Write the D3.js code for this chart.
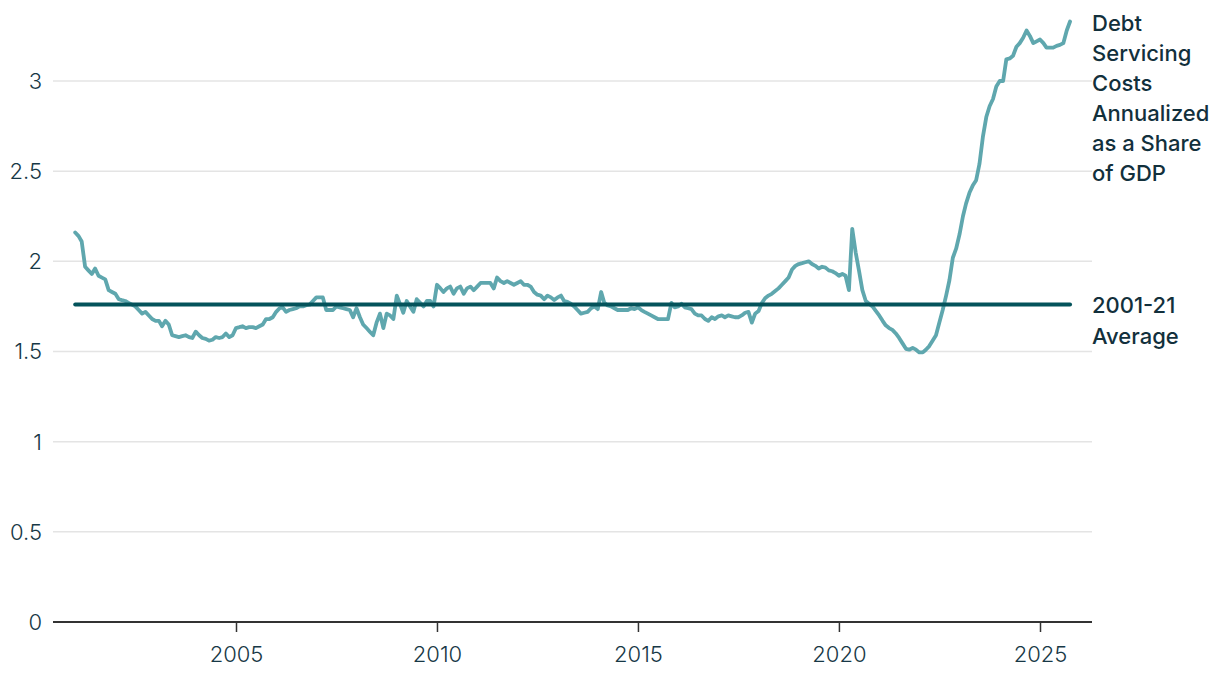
<!DOCTYPE html>
<html>
<head>
<meta charset="utf-8">
<script src="https://cdn.jsdelivr.net/npm/d3@7"></script>
<style>
  html, body { margin: 0; padding: 0; background: #ffffff; }
  svg { display: block; }
  text { font-family: Inter, "Open Sans", sans-serif; }
</style>
</head>
<body>
<svg id="chart" width="1220" height="684"></svg>
<script>
// ---- Data (monthly, starting January 2001) ----
const startMonth = "2001-01";
const debtServiceShare = [
  // 2001
  2.16, 2.14, 2.11, 1.97, 1.95, 1.93, 1.96, 1.92, 1.91, 1.90, 1.84, 1.83,
  // 2002
  1.82, 1.79, 1.785, 1.78, 1.77, 1.76, 1.75, 1.73, 1.71, 1.72, 1.70, 1.68,
  // 2003
  1.67, 1.67, 1.64, 1.67, 1.65, 1.59, 1.585, 1.58, 1.585, 1.59, 1.58, 1.575,
  // 2004
  1.61, 1.59, 1.575, 1.57, 1.56, 1.565, 1.58, 1.575, 1.58, 1.60, 1.58, 1.59,
  // 2005
  1.63, 1.635, 1.64, 1.63, 1.635, 1.635, 1.63, 1.64, 1.65, 1.68, 1.68, 1.69,
  // 2006
  1.72, 1.74, 1.745, 1.72, 1.73, 1.735, 1.74, 1.75, 1.75, 1.757, 1.76, 1.78,
  // 2007
  1.80, 1.80, 1.80, 1.73, 1.73, 1.73, 1.75, 1.745, 1.74, 1.735, 1.73, 1.69,
  // 2008
  1.74, 1.69, 1.65, 1.63, 1.61, 1.59, 1.66, 1.71, 1.63, 1.71, 1.70, 1.68,
  // 2009
  1.81, 1.76, 1.715, 1.78, 1.75, 1.72, 1.79, 1.77, 1.75, 1.78, 1.78, 1.75,
  // 2010
  1.87, 1.85, 1.83, 1.85, 1.86, 1.82, 1.85, 1.86, 1.82, 1.85, 1.86, 1.84,
  // 2011
  1.86, 1.88, 1.88, 1.88, 1.88, 1.85, 1.91, 1.89, 1.88, 1.89, 1.88, 1.87,
  // 2012
  1.88, 1.89, 1.87, 1.87, 1.86, 1.83, 1.815, 1.81, 1.79, 1.81, 1.80, 1.785,
  // 2013
  1.80, 1.81, 1.78, 1.775, 1.765, 1.75, 1.73, 1.71, 1.715, 1.72, 1.74, 1.75,
  // 2014
  1.735, 1.83, 1.77, 1.755, 1.75, 1.74, 1.73, 1.73, 1.73, 1.73, 1.74, 1.735,
  // 2015
  1.745, 1.73, 1.72, 1.71, 1.70, 1.69, 1.68, 1.68, 1.68, 1.68, 1.77, 1.745,
  // 2016
  1.75, 1.765, 1.745, 1.74, 1.735, 1.71, 1.70, 1.70, 1.68, 1.67, 1.69, 1.68,
  // 2017
  1.695, 1.70, 1.69, 1.70, 1.695, 1.69, 1.69, 1.70, 1.715, 1.72, 1.66, 1.71,
  // 2018
  1.725, 1.77, 1.795, 1.81, 1.82, 1.835, 1.85, 1.87, 1.89, 1.91, 1.955, 1.975,
  // 2019
  1.985, 1.99, 1.995, 2.00, 1.985, 1.975, 1.96, 1.97, 1.965, 1.95, 1.945, 1.935,
  // 2020
  1.92, 1.93, 1.92, 1.84, 2.18, 2.05, 1.95, 1.84, 1.78, 1.765, 1.75, 1.725,
  // 2021
  1.70, 1.67, 1.645, 1.63, 1.62, 1.60, 1.575, 1.545, 1.515, 1.51, 1.52, 1.51,
  // 2022
  1.495, 1.495, 1.51, 1.53, 1.56, 1.59, 1.66, 1.73, 1.81, 1.895, 2.02, 2.07,
  // 2023
  2.15, 2.25, 2.32, 2.38, 2.42, 2.45, 2.54, 2.69, 2.80, 2.86, 2.90, 2.97,
  // 2024
  3.00, 3.00, 3.12, 3.125, 3.14, 3.19, 3.21, 3.24, 3.28, 3.25, 3.21, 3.22,
  // 2025
  3.23, 3.21, 3.185, 3.185, 3.185, 3.195, 3.20, 3.21, 3.28, 3.33
];
const averageValue = 1.76; // 2001-21 average
const yTicks = [0, 0.5, 1, 1.5, 2, 2.5, 3];
const yTickLabels = ["0", "0.5", "1", "1.5", "2", "2.5", "3"];
const xTickYears = [2005, 2010, 2015, 2020, 2025];
const seriesLabel = ["Debt", "Servicing", "Costs", "Annualized", "as a Share", "of GDP"];
const averageLabel = ["2001-21", "Average"];

// ---- Build ----
const parseMonth = d3.timeParse("%Y-%m");
const start = parseMonth(startMonth);
const data = debtServiceShare.map((v, i) => ({ date: d3.timeMonth.offset(start, i), value: v }));

const svg = d3.select("#chart");
const left = 53, right = 1092;

const x = d3.scaleTime()
  .domain([new Date(2005, 0, 1), new Date(2025, 0, 1)])
  .range([236, 1040]);
const y = d3.scaleLinear().domain([0, 3]).range([622, 81]);

const textColor = "#173846";
const fontFam = "Inter, 'Open Sans', sans-serif";

// gridlines
svg.append("g")
  .selectAll("line")
  .data(yTicks.filter(t => t !== 0))
  .join("line")
  .attr("x1", left).attr("x2", right)
  .attr("y1", d => y(d)).attr("y2", d => y(d))
  .attr("stroke", "#e4e4e4").attr("stroke-width", 1.5);

// y tick labels
svg.append("g")
  .selectAll("text")
  .data(yTicks)
  .join("text")
  .attr("x", 42)
  .attr("y", d => y(d))
  .attr("dy", "0.36em")
  .attr("text-anchor", "end")
  .attr("font-size", 22)
  .attr("font-weight", 300)
  .attr("fill", textColor)
  .text((d, i) => yTickLabels[i]);

// x axis
const xAxis = d3.axisBottom(x)
  .tickValues(xTickYears.map(yr => new Date(yr, 0, 1)))
  .tickFormat(d3.timeFormat("%Y"))
  .tickSize(10)
  .tickPadding(14);
const gx = svg.append("g").attr("transform", `translate(0,${y(0)})`).call(xAxis);
gx.select(".domain").remove();
gx.selectAll(".tick line").attr("stroke", "#333").attr("stroke-width", 1.5);
gx.selectAll(".tick text")
  .attr("font-size", 22)
  .attr("font-weight", 300)
  .attr("font-family", fontFam)
  .attr("fill", textColor);
svg.append("line")
  .attr("x1", left).attr("x2", right)
  .attr("y1", y(0)).attr("y2", y(0))
  .attr("stroke", "#333").attr("stroke-width", 2);

// series line
const line = d3.line().x(d => x(d.date)).y(d => y(d.value));
svg.append("path")
  .datum(data)
  .attr("fill", "none")
  .attr("stroke", "#5fa7ae")
  .attr("stroke-width", 3.8)
  .attr("stroke-linejoin", "round")
  .attr("stroke-linecap", "round")
  .attr("d", line);

// average line
const first = data[0].date, last = data[data.length - 1].date;
svg.append("line")
  .attr("x1", x(first)).attr("x2", x(last))
  .attr("y1", y(averageValue)).attr("y2", y(averageValue))
  .attr("stroke", "#04535b")
  .attr("stroke-width", 4)
  .attr("stroke-linecap", "round");

// labels
svg.append("text")
  .attr("x", 1092).attr("y", 31)
  .attr("font-size", 22).attr("font-weight", 500).attr("fill", "#12303c")
  .selectAll("tspan")
  .data(seriesLabel)
  .join("tspan")
  .attr("x", 1092)
  .attr("dy", (d, i) => i === 0 ? 0 : 30)
  .text(d => d);

svg.append("text")
  .attr("x", 1092).attr("y", y(averageValue) + 8)
  .attr("font-size", 22).attr("font-weight", 500).attr("fill", "#12303c")
  .selectAll("tspan")
  .data(averageLabel)
  .join("tspan")
  .attr("x", 1092)
  .attr("dy", (d, i) => i === 0 ? 0 : 31)
  .text(d => d);
</script>
</body>
</html>
